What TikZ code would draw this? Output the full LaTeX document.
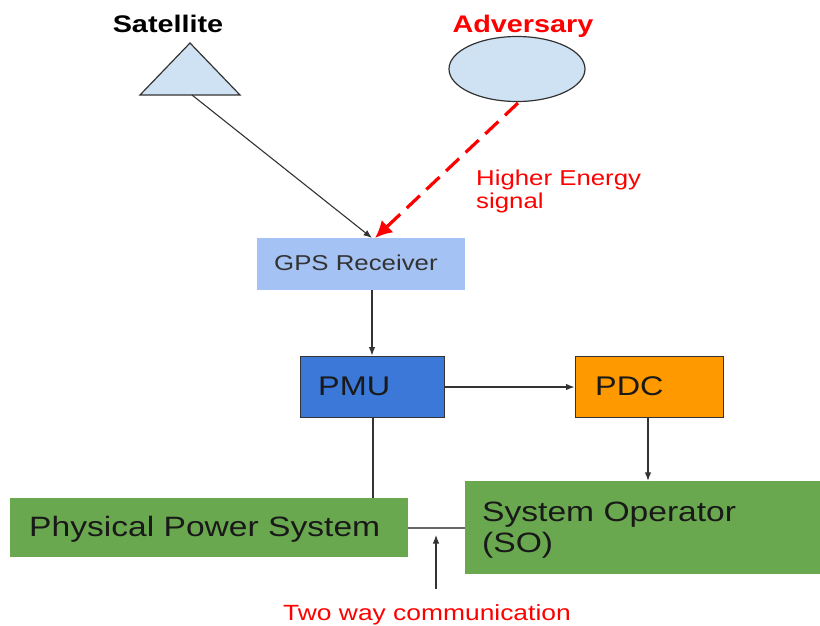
\documentclass[tikz,border=0pt]{standalone}
\usepackage{fontspec}
\setmainfont{Liberation Sans}
\usetikzlibrary{arrows.meta,shapes.geometric}
\definecolor{lightblue}{HTML}{CFE2F3}
\definecolor{gpsblue}{HTML}{A4C2F4}
\definecolor{pmublue}{HTML}{3C78D8}
\definecolor{pdcorange}{HTML}{FF9900}
\definecolor{boxgreen}{HTML}{6AA84F}
\definecolor{edgegray}{HTML}{333333}
\definecolor{sigred}{HTML}{FF0000}
\newcommand\stretchtxt[1]{\scalebox{1.2}[1]{#1}}
\newcommand\fs[1]{\fontsize{#1}{#1}\selectfont}
\tikzset{
  box/.style={rectangle, inner sep=0pt, draw=none},
  txt/.style={inner sep=0pt, anchor=base west},
  ctxt/.style={inner sep=0pt, anchor=base},
  conn/.style={draw=edgegray, line width=1.1pt},
  tip/.style={-{Latex[length=8.5pt,width=6.5pt]}},
}
\begin{document}
\begin{tikzpicture}[x=1pt,y=-1pt]
\useasboundingbox (0,0) rectangle (820,625);
% satellite
\draw[fill=lightblue, draw=edgegray, line width=1.2pt, line join=miter] (190,43) -- (240,95) -- (140,95) -- cycle;
\coordinate (satbase) at (192,95);
\node[ctxt] (satlbl) at (168,32) {\stretchtxt{\fs{24}\bfseries Satellite}};
% adversary
\node[ellipse, fill=lightblue, draw=edgegray, line width=1.2pt, minimum width=136pt, minimum height=65pt, inner sep=0pt] (adv) at (517,69) {};
\node[ctxt, text=sigred] (advlbl) at (523,32) {\stretchtxt{\fs{24}\bfseries Adversary}};
% boxes
\node[box, fill=gpsblue, minimum width=208pt, minimum height=52pt] (gps) at (361,264) {};
\node[txt, text=edgegray] (gpslbl) at (274,270) {\stretchtxt{\fs{21.5}GPS Receiver}};
\node[box, fill=pmublue, draw=edgegray, line width=1pt, minimum width=144pt, minimum height=61pt] (pmu) at (372,386.5) {};
\node[txt, text=black!90] (pmulbl) at (318,395) {\stretchtxt{\fs{27}PMU}};
\node[box, fill=pdcorange, draw=edgegray, line width=1pt, minimum width=148pt, minimum height=61pt] (pdc) at (649,386.5) {};
\node[txt, text=black!90] (pdclbl) at (595,395) {\stretchtxt{\fs{27}PDC}};
\node[box, fill=boxgreen, minimum width=398pt, minimum height=59pt] (pps) at (209,527.5) {};
\node[txt, text=black!90] (ppslbl) at (29,536.5) {\stretchtxt{\fs{28}Physical Power System}};
\node[box, fill=boxgreen, minimum width=355pt, minimum height=93pt] (so) at (642.5,527.5) {};
\node[txt, text=black!90] (solbl1) at (482,521.5) {\stretchtxt{\fs{28}System Operator}};
\node[txt, text=black!90] (solbl2) at (482,552) {\stretchtxt{\fs{28}(SO)}};
% labels
\node[txt, text=sigred] (helbl1) at (476,185) {\stretchtxt{\fs{21.5}Higher Energy}};
\node[txt, text=sigred] (helbl2) at (476,208) {\stretchtxt{\fs{21.5}signal}};
\node[ctxt, text=sigred] (twlbl) at (427,620) {\stretchtxt{\fs{22}Two way communication}};
% connectors
\coordinate (gpstop) at (372,238);
\coordinate (gpstop2) at (375,238);
\draw[conn, tip] (satbase) -- (gpstop);
\draw[draw=sigred, line width=3.2pt, dash pattern=on 18pt off 9pt, -{Latex[length=17pt,width=17pt]}] (518,103) -- (gpstop2);
\draw[conn, tip] (gps.south -| gpstop) -- (pmu.north -| gpstop);
\draw[conn, tip] (pmu.east |- 0,387) -- (pdc.west |- 0,387);
\draw[conn] (pmu.south -| 373,0) -- (pps.north -| 373,0);
\draw[conn, tip] (pdc.south -| 648,0) -- (so.north -| 648,0);
\draw[draw=black!60, line width=1.2pt] (pps.east |- 0,528) -- (so.west |- 0,528);
\coordinate (twbot) at (436,589);
\coordinate (twtop) at (436,535);
\draw[conn, tip] (twbot) -- (twtop);
\end{tikzpicture}
\end{document}
